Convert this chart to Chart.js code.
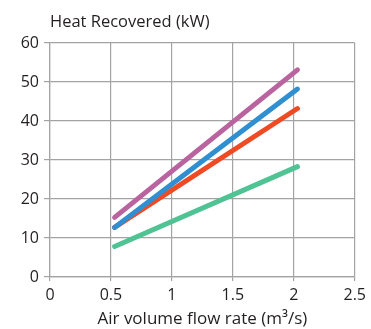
<!DOCTYPE html>
<html>
<head>
<meta charset="utf-8">
<script src="https://cdn.jsdelivr.net/npm/chart.js@4/dist/chart.umd.min.js"></script>
<style>
  html, body { margin: 0; padding: 0; background: #fff; }
  #wrap { width: 371px; height: 329px; position: relative; }
</style>
</head>
<body>
<div id="wrap"><canvas id="heatChart"></canvas></div>
<script>
// Air volume flow rate at the two ends of each line (m3/s)
const flowRates = [0.53, 2.03];
// Heat recovered per series (kW)
const magentaValues = [15.3, 53.1];
const blueValues = [12.7, 48.2];
const redValues = [12.7, 43.2];
const greenValues = [7.8, 28.3];

const yTitle = 'Heat Recovered (kW)';
const xTitle = 'Air volume flow rate (m³/s)';

const fontFamily = '"Open Sans", "DejaVu Sans", sans-serif';
const gridColor = '#a3a3a3';
const textColor = '#231f20';

function toPoints(values) {
    return flowRates.map((x, i) => ({ x: x, y: values[i] }));
}

function lineSet(values, color) {
    return {
        data: toPoints(values),
        borderColor: color,
        backgroundColor: color,
        borderWidth: 5,
        borderCapStyle: 'round',
        pointRadius: 0,
        fill: false
    };
}

// draws the y axis title above the plot, left aligned with the chart area
const topTitle = {
    id: 'topTitle',
    afterDraw(chart) {
        const ctx = chart.ctx;
        ctx.save();
        ctx.font = '16.5px ' + fontFamily;
        ctx.fillStyle = textColor;
        ctx.textAlign = 'left';
        ctx.textBaseline = 'alphabetic';
        ctx.fillText(yTitle, chart.chartArea.left, 27);
        ctx.restore();
    }
};

const ctx = document.getElementById('heatChart').getContext('2d');
new Chart(ctx, {
    type: 'line',
    data: {
        datasets: [
            lineSet(magentaValues, '#b9639f'),
            lineSet(blueValues, '#2f8fd1'),
            lineSet(redValues, '#ef4a24'),
            lineSet(greenValues, '#4fc393')
        ]
    },
    options: {
        responsive: true,
        maintainAspectRatio: false,
        animation: false,
        layout: { padding: { top: 43, right: 14, left: 0, bottom: 0 } },
        plugins: {
            legend: { display: false },
            tooltip: { enabled: false }
        },
        scales: {
            x: {
                type: 'linear',
                min: 0,
                max: 2.5,
                afterFit: (scale) => { scale.height = 52; },
                ticks: {
                    stepSize: 0.5,
                    color: textColor,
                    font: { family: fontFamily, size: 16 },
                    padding: 5,
                    callback: (v) => String(v)
                },
                grid: { color: gridColor, lineWidth: 1.2, tickLength: 4 },
                border: { color: gridColor, width: 1.2 },
                title: { display: true, text: xTitle, color: textColor, font: { family: fontFamily, size: 17 }, padding: { top: 0, bottom: 0 } }
            },
            y: {
                min: 0,
                max: 60,
                afterFit: (scale) => { scale.width = 50; },
                ticks: { stepSize: 10, color: textColor, font: { family: fontFamily, size: 16 }, padding: 5 },
                grid: { color: gridColor, lineWidth: 1.2, tickLength: 6 },
                border: { color: gridColor, width: 1.2 }
            }
        }
    },
    plugins: [topTitle]
});
</script>
</body>
</html>
